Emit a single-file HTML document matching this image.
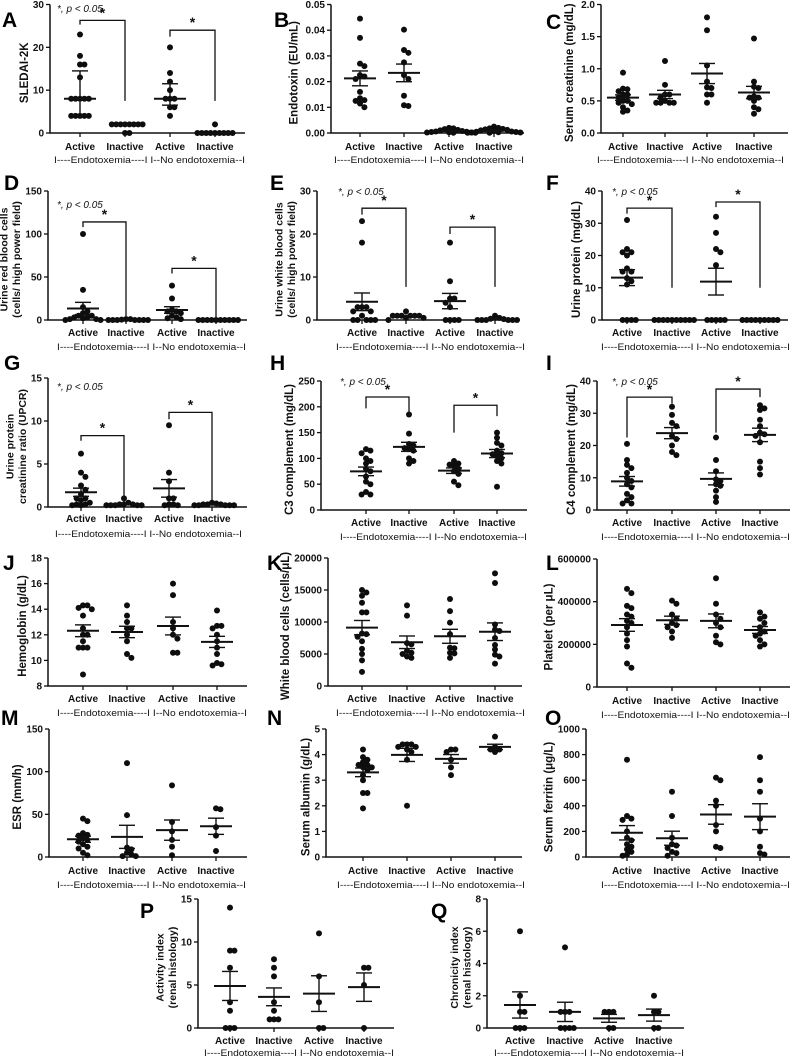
<!DOCTYPE html>
<html><head><meta charset="utf-8"><title>Endotoxemia panels</title>
<style>
html,body{margin:0;padding:0;background:#fff;}
svg{display:block;font-family:"Liberation Sans",Arial,sans-serif;}
.tick{font-size:10px;font-weight:bold;fill:#111;}
.cat{font-size:10px;font-weight:bold;fill:#111;}
.cap{font-size:9.5px;fill:#111;}
.ttl{font-size:11.5px;font-weight:bold;fill:#111;}
.ttl2{font-size:10.5px;font-weight:bold;fill:#111;}
.let{font-size:21px;font-weight:bold;fill:#000;}
.pv{font-size:10px;font-style:italic;fill:#111;}
</style></head>
<body>
<svg id="fig" width="792" height="1057" viewBox="0 0 792 1057" xmlns="http://www.w3.org/2000/svg"></svg>
<script>
const groupLabels=["Active","Inactive","Active","Inactive"];
const groupCaption="I----Endotoxemia----I I--No endotoxemia--I";

const A_values=[[23,18,16,16,13,8,8,8,8,8,4,4,4,4,4],[2,2,2,2,2,2,2,2,0,0],[20,14,12,10,8,8,8,6,6,4],[2,0,0,0,0,0,0,0,0,0]];
const A_ticks=[0,10,20,30];
const A_tickLabels=["0","10","20","30"];
const B_values=[[0.0445,0.037,0.027,0.026,0.0225,0.022,0.021,0.016,0.0135,0.0128,0.0125,0.0115,0.01],[0.0402,0.0323,0.0312,0.0275,0.0225,0.021,0.0145,0.0105,0.0108],[0.002,0.0018,0.0015,0.0012,0.001,0.0008,0.0006,0.0005,0.0004,0.0003,0.0002,0.0002,0.0001,0.0001],[0.0025,0.002,0.0018,0.0016,0.0014,0.0012,0.001,0.0008,0.0006,0.0005,0.0004,0.0003,0.0002,0.0002,0.0001,0.0001]];
const B_ticks=[0,0.01,0.02,0.03,0.04,0.05];
const B_tickLabels=["0.00","0.01","0.02","0.03","0.04","0.05"];
const C_values=[[0.94,0.69,0.68,0.65,0.6,0.6,0.55,0.5,0.5,0.47,0.45,0.4,0.35,0.33],[1.12,0.75,0.6,0.6,0.55,0.5,0.47,0.47,0.47,0.47],[1.8,1.6,1.05,0.8,0.71,0.7,0.6,0.6,0.47],[1.47,0.8,0.72,0.7,0.57,0.55,0.55,0.5,0.4,0.37,0.3]];
const C_ticks=[0,0.5,1,1.5,2];
const C_tickLabels=["0.0","0.5","1.0","1.5","2.0"];
const D_values=[[100,35,15,10,8,5,5,3,3,2,1,1,0,0],[1,1,0.5,0,0,0,0,0,0,0],[40,25,12,10,10,8,5,3,2,1],[0,0,0,0,0,0,0,0,0,0]];
const D_ticks=[0,50,100,150];
const D_tickLabels=["0","50","100","150"];
const E_values=[[23,18,3,3,3,2,2,1,0,0,0,0,0],[2,1,1,1,1,1,1,0.5,0.5,0],[18,9,5,5,4,3,0,0,0,0],[1,0.5,0.3,0.2,0,0,0,0,0,0]];
const E_ticks=[0,10,20,30];
const E_tickLabels=["0","10","20","30"];
const F_values=[[31,22,21,21,20,16,15,15,13,12,11,0,0,0,0],[0,0,0,0,0,0,0,0,0,0],[32,27,22,21,17,0,0,0,0,0],[0,0,0,0,0,0,0,0,0]];
const F_ticks=[0,10,20,30,40];
const F_tickLabels=["0","10","20","30","40"];
const G_values=[[6.2,4,3.5,2.5,2,1.5,1,1,0.8,0.5,0.3,0.3,0.2,0.2],[1,0.5,0.3,0.3,0.3,0.2,0.2,0.2,0.2,0.2],[9.5,4,3,1,1,0.3,0.3,0.2,0.2],[0.5,0.4,0.3,0.3,0.3,0.2,0.2,0.2,0.2,0.2]];
const G_ticks=[0,5,10,15];
const G_tickLabels=["0","5","10","15"];
const H_values=[[118,115,110,100,95,90,80,75,65,55,50,35,30,30],[185,148,128,125,120,118,115,100,95,90],[95,90,88,85,80,75,70,55,48],[150,140,130,125,115,110,108,105,100,95,90,45]];
const H_ticks=[0,50,100,150,200,250];
const H_tickLabels=["0","50","100","150","200","250"];
const I_values=[[20.5,15.5,14,13,11.5,10,9,8,7,5,4,3,2,2],[32,29.5,27,26,23,22,20,18,17],[22.5,15.5,12,9.5,9,8,7.5,6,4,2.5],[32.5,31.5,31,28,26,24,23.5,23,21,15,13,11]];
const I_ticks=[0,10,20,30,40];
const I_tickLabels=["0","10","20","30","40"];
const J_values=[[14.3,14.3,14.1,14,13.5,12.5,12,12,11.5,11,11,11,8.9],[14.3,13.5,13,12.5,12,11.5,10.5,10.2,12.5],[16,15.1,13,12.5,12,11.7,10.6,10.6],[13.9,12.7,12.7,12.5,12,11.5,11,10.5,9.8,9.7,9.6]];
const J_ticks=[8,10,12,14,16,18];
const J_tickLabels=["8","10","12","14","16","18"];
const K_values=[[15000,14100,14600,13000,11500,11500,8200,8100,7700,7000,5800,5000,4000,2200],[12600,11000,6700,6500,5500,5200,5000,4600,4400],[13600,11700,9900,8100,6000,5900,5200,5100,4400],[17600,16100,9600,8800,8600,7500,6400,5700,4900,4600,3500]];
const K_ticks=[0,5000,10000,15000,20000];
const K_tickLabels=["0","5000","10000","15000","20000"];
const L_values=[[460000,440000,380000,370000,340000,330000,310000,300000,280000,250000,220000,190000,110000,90000],[405000,390000,340000,320000,300000,290000,280000,260000,230000],[510000,390000,340000,320000,300000,280000,240000,210000,200000],[350000,330000,320000,300000,280000,260000,250000,240000,220000,200000,190000]];
const L_ticks=[0,200000,400000,600000];
const L_tickLabels=["0","200000","400000","600000"];
const M_values=[[45,42,28,26,25,22,20,18,15,12,10,5,2],[110,49,11,9,5,3,1,1],[84,41,30,20,12,2],[57,56,35,25,7]];
const M_ticks=[0,50,100,150];
const M_tickLabels=["0","50","100","150"];
const N_values=[[4.2,3.9,3.8,3.7,3.6,3.6,3.5,3.5,3.4,3.2,3.0,2.5,2.5,1.9],[4.4,4.4,4.4,4.3,4.3,4.2,4.1,3.8,2.0],[4.2,4.2,4.1,3.8,3.5,3.2],[4.7,4.3,4.2,4.2,4.1]];
const N_ticks=[0,1,2,3,4,5];
const N_tickLabels=["0","1","2","3","4","5"];
const O_values=[[760,320,300,290,200,150,130,100,80,60,40,20,10],[510,320,150,100,90,70,40,30,10],[620,600,440,400,250,200,80,70],[780,600,510,300,200,80,30,20]];
const O_ticks=[0,200,400,600,800,1000];
const O_tickLabels=["0","200","400","600","800","1000"];
const P_values=[[14,9,9,7,3,2,0,0,0],[8,7,6,3,2,1,1,1],[11,6,3,0,0],[7,7,5,0]];
const P_ticks=[0,5,10,15];
const P_tickLabels=["0","5","10","15"];
const Q_values=[[6,2,1,1,0,0,0],[5,1,1,1,0,0,0,0],[1,1,1,0,0],[2,1,1,0,0]];
const Q_ticks=[0,2,4,6,8];
const Q_tickLabels=["0","2","4","6","8"];

// significance brackets: [groupA, groupB, topValue, leftLegEnd, rightLegEnd]
const A_brackets=[[0,1,26.3,25.3,7.5],[2,3,24,22.5,7.5]];
const D_brackets=[[0,1,114,108,2],[2,3,60,54,2]];
const E_brackets=[[0,1,26,24.5,7.7],[2,3,21.6,20,7.7]];
const F_brackets=[[0,1,34.7,33,10],[2,3,36.6,35,10]];
const G_brackets=[[0,1,8.3,7.7,0.4],[2,3,11,10.2,0.4]];
const H_brackets=[[0,1,219,197,182],[2,3,203,150,182]];
const I_brackets=[[0,1,35,22.5,33],[2,3,37.5,24,35]];

const panels=[
 {id:'a',L:'A',vals:A_values,ticks:A_ticks,tl:A_tickLabels,ymin:0,ymax:30,ax:50,top:4.5,bot:133,gx:[80,125,170,215],end:245,lab:150,cap:163,title:["SLEDAI-2K"],let:[2,27],median:true,br:A_brackets,p:[57,12]},
 {id:'b',L:'B',vals:B_values,ticks:B_ticks,tl:B_tickLabels,ymin:0,ymax:0.05,ax:331,top:4.5,bot:133,gx:[360,404,449,494],end:524,lab:150,cap:163,title:["Endotoxin (EU/mL)"],let:[274,27]},
 {id:'c',L:'C',vals:C_values,ticks:C_ticks,tl:C_tickLabels,ymin:0,ymax:2,ax:601,top:4.5,bot:133,gx:[623,665,707,754],end:788,lab:150,cap:163,title:["Serum creatinine (mg/dL)"],let:[546,29]},
 {id:'d',L:'D',vals:D_values,ticks:D_ticks,tl:D_tickLabels,ymin:0,ymax:150,ax:48,top:191,bot:320,gx:[83,126,172,216],end:247,lab:336,cap:350,title:["Urine red blood cells","(cells/ high power field)"],let:[4,190],br:D_brackets,p:[57,208]},
 {id:'e',L:'E',vals:E_values,ticks:E_ticks,tl:E_tickLabels,ymin:0,ymax:30,ax:317,top:191,bot:320,gx:[362,406,450,495],end:520,lab:336,cap:350,title:["Urine white blood cells","(cells/ high power field)"],let:[270,190],br:E_brackets,p:[338,195]},
 {id:'f',L:'F',vals:F_values,ticks:F_ticks,tl:F_tickLabels,ymin:0,ymax:40,ax:602,top:191,bot:320,gx:[627,672,716,760],end:788,lab:336,cap:350,title:["Urine protein (mg/dL)"],let:[546,190],br:F_brackets,p:[612,195]},
 {id:'g',L:'G',vals:G_values,ticks:G_ticks,tl:G_tickLabels,ymin:0,ymax:15,ax:48,top:378,bot:507,gx:[81,124,169,212],end:247,lab:522,cap:537,title:["Urine protein","creatinine ratio (UPCR)"],let:[4,370],br:G_brackets,p:[57,390]},
 {id:'h',L:'H',vals:H_values,ticks:H_ticks,tl:H_tickLabels,ymin:0,ymax:250,ax:321,top:381,bot:510,gx:[366,409,454,497],end:527,lab:526,cap:540,title:["C3 complement (mg/dL)"],let:[270,370],br:H_brackets,p:[340,385]},
 {id:'i',L:'I',vals:I_values,ticks:I_ticks,tl:I_tickLabels,ymin:0,ymax:40,ax:597,top:381,bot:510,gx:[627,672,716,760],end:790,lab:526,cap:540,title:["C4 complement (mg/dL)"],let:[546,370],br:I_brackets,p:[612,385]},
 {id:'j',L:'J',vals:J_values,ticks:J_ticks,tl:J_tickLabels,ymin:8,ymax:18,ax:48,top:558,bot:686,gx:[83,127,173,217],end:247,lab:702,cap:716,title:["Hemoglobin (g/dL)"],let:[3,570]},
 {id:'k',L:'K',vals:K_values,ticks:K_ticks,tl:K_tickLabels,ymin:0,ymax:20000,ax:328,top:558,bot:686,gx:[362,407,450,495],end:522,lab:702,cap:716,title:["White blood cells (cells/\u03bcL)"],let:[267,570]},
 {id:'l',L:'L',vals:L_values,ticks:L_ticks,tl:L_tickLabels,ymin:0,ymax:600000,ax:597,top:559,bot:687,gx:[627,672,716,760],end:790,lab:704,cap:718,title:["Platelet (per \u03bcL)"],let:[546,570]},
 {id:'m',L:'M',vals:M_values,ticks:M_ticks,tl:M_tickLabels,ymin:0,ymax:150,ax:49,top:729,bot:857,gx:[83,127,172,216],end:247,lab:874,cap:888,title:["ESR (mm/h)"],let:[1,725]},
 {id:'n',L:'N',vals:N_values,ticks:N_ticks,tl:N_tickLabels,ymin:0,ymax:5,ax:326,top:729,bot:857,gx:[363,407,451,495],end:522,lab:874,cap:888,title:["Serum albumin (g/dL)"],let:[267,725]},
 {id:'o',L:'O',vals:O_values,ticks:O_ticks,tl:O_tickLabels,ymin:0,ymax:1000,ax:586,top:729,bot:857,gx:[627,672,716,760],end:790,lab:874,cap:888,title:["Serum ferritin (\u03bcg/L)"],let:[545,725]},
 {id:'p',L:'P',vals:P_values,ticks:P_ticks,tl:P_tickLabels,ymin:0,ymax:15,ax:198,top:899,bot:1028,gx:[230,274,319,364],end:394,lab:1044,cap:1056,title:["Activity index","(renal histology)"],let:[140,918]},
 {id:'q',L:'Q',vals:Q_values,ticks:Q_ticks,tl:Q_tickLabels,ymin:0,ymax:8,ax:487,top:899,bot:1028,gx:[520,565,609,654],end:684,lab:1044,cap:1056,title:["Chronicity index","(renal histology)"],let:[431,918]}
];

const NS="http://www.w3.org/2000/svg";
const svg=document.getElementById('fig');
function mk(tag,attrs,parent){const e=document.createElementNS(NS,tag);for(const k in attrs)e.setAttribute(k,attrs[k]);(parent||svg).appendChild(e);return e;}
function line(x1,y1,x2,y2,w,parent,col){return mk('line',{x1,y1,x2,y2,stroke:col||'#111','stroke-width':w},parent);}
function quant(s,q){const p=(s.length-1)*q;const i=Math.floor(p);const f=p-i;return s[i]+(s[Math.min(i+1,s.length-1)]-s[i])*f;}

panels.forEach(P=>{
  const g=mk('g',{});
  
  
  const y=v=>P.bot-(v-P.ymin)/(P.ymax-P.ymin)*(P.bot-P.top);
  const lt=mk('text',{x:P.let[0],y:P.let[1],class:'let'},g);lt.textContent=P.L;
  
  
  const ya=line(P.ax,P.top,P.ax,P.bot,1.5,g);
  
  
  let maxW=0;
  P.ticks.forEach((t,i)=>{
    line(P.ax-4,y(t),P.ax,y(t),1.3,g);
    const tx=mk('text',{x:P.ax-6,y:y(t)+3.5,'text-anchor':'end',class:'tick'},g);tx.textContent=P.tl[i];
    
    
    maxW=Math.max(maxW,P.tl[i].length*5.6);
  });
  const xa=line(P.ax-0.75,P.bot,P.end,P.bot,1.5,g);
  
  
  P.gx.forEach((gx,i)=>{
    line(gx,P.bot,gx,P.bot+4,1.3,g);
    const c=mk('text',{x:gx,y:P.lab,'text-anchor':'middle',class:'cat'},g);c.textContent=groupLabels[i];
    
    
  });
  const cw=(P.gx[3]-P.gx[0])+56;
  const cp=mk('text',{x:(P.gx[0]+P.gx[3])/2+2,y:P.cap,'text-anchor':'middle',class:'cap',textLength:cw,lengthAdjust:'spacingAndGlyphs'},g);cp.textContent=groupCaption;
  
  
  const cy=(P.top+P.bot)/2+4;
  const n=P.title.length;
  P.title.forEach((t,i)=>{
    const tx=P.ax-6-maxW-5-(n-1-i)*12.5;
    const tt=mk('text',{x:tx,y:cy,'text-anchor':'middle',class:n>1?'ttl2':'ttl',transform:`rotate(-90 ${tx} ${cy})`},g);tt.textContent=t;
    
    
  });
  P.vals.forEach((arr,gi)=>{
    const gx=P.gx[gi];const placed=[];
    const sorted=arr.slice().sort((a,b)=>b-a);
    sorted.forEach(v=>{
      const py=y(v);let k=0,px=gx;
      while(true){
        const off=k===0?0:(k%2===1?1:-1)*Math.ceil(k/2)*4.4;
        px=gx+off;
        if(!placed.some(p=>(p[0]-px)**2+(p[1]-py)**2<19))break;
        k++;if(k>14)break;
      }
      placed.push([px,py]);
      const d=mk('circle',{cx:px,cy:py,r:3,fill:'#0d0d0d'},g);
      
      
    });
    let c,lo,hi;
    const s=arr.slice().sort((a,b)=>a-b);
    if(P.median){c=quant(s,0.5);lo=quant(s,0.25);hi=quant(s,0.75);}
    else{const n=s.length;c=s.reduce((a,b)=>a+b,0)/n;const sd=Math.sqrt(s.reduce((a,b)=>a+(b-c)**2,0)/(n-1));const se=sd/Math.sqrt(n);lo=c-se;hi=c+se;}
    const ml=line(gx-16,y(c),gx+16,y(c),2,g);
    
    
    line(gx,y(lo),gx,y(hi),1.4,g);
    line(gx-8,y(lo),gx+8,y(lo),1.4,g);
    line(gx-8,y(hi),gx+8,y(hi),1.4,g);
  });
  if(P.br){P.br.forEach(b=>{
    const x1=P.gx[b[0]],x2=P.gx[b[1]],ty=y(b[2]);
    const pl=mk('polyline',{points:`${x1},${y(b[3])} ${x1},${ty} ${x2},${ty} ${x2},${y(b[4])}`,fill:'none',stroke:'#111','stroke-width':1.3},g);
    
    
    const st=mk('text',{x:(x1+x2)/2,y:ty-3,'text-anchor':'middle','font-size':'14','font-weight':'bold',fill:'#111'},g);st.textContent='*';
    
    
  });}
  if(P.p){
    const pt=mk('text',{x:P.p[0],y:P.p[1],class:'pv'},g);pt.textContent='*, p < 0.05';
    
    
  }
});
</script>
</body></html>
